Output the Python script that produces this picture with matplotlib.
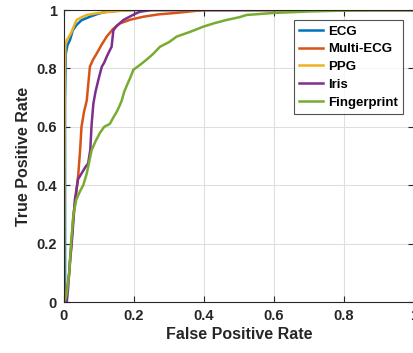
import matplotlib
matplotlib.use("Agg")
import matplotlib.pyplot as plt

plt.rcParams['font.family'] = ['Liberation Sans', 'DejaVu Sans']

# ---- data ----
ecg_fpr = [0, 0.003, 0.003, 0.005, 0.01, 0.017, 0.025, 0.036, 0.05, 0.074, 0.1, 0.122, 0.16, 0.2, 1]
ecg_tpr = [0, 0, 0.69, 0.85, 0.88, 0.897, 0.93, 0.949, 0.965, 0.977, 0.988, 0.994, 0.998, 1, 1]

multi_fpr = [0, 0.005, 0.008, 0.015, 0.02, 0.027, 0.034, 0.041, 0.046, 0.05, 0.057, 0.065, 0.074,
             0.083, 0.093, 0.107, 0.122, 0.14, 0.16, 0.19, 0.227, 0.27, 0.32, 0.4, 1]
multi_tpr = [0, 0.02, 0.04, 0.1, 0.18, 0.30, 0.36, 0.44, 0.52, 0.60, 0.65, 0.69, 0.806,
             0.83, 0.85, 0.88, 0.909, 0.935, 0.954, 0.967, 0.977, 0.985, 0.99, 1, 1]

ppg_fpr = [0, 0.002, 0.004, 0.008, 0.015, 0.022, 0.03, 0.036, 0.05, 0.065, 0.1, 0.15, 0.2, 1]
ppg_tpr = [0, 0.75, 0.88, 0.897, 0.91, 0.926, 0.95, 0.966, 0.975, 0.983, 0.99, 0.996, 1, 1]

iris_fpr = [0, 0.008, 0.012, 0.017, 0.022, 0.027, 0.031, 0.04, 0.05, 0.06, 0.069, 0.075, 0.079, 0.084,
            0.09, 0.098, 0.108, 0.115, 0.122, 0.13, 0.136, 0.141, 0.15, 0.17, 0.2, 0.217, 0.25, 1]
iris_tpr = [0, 0, 0.05, 0.14, 0.2, 0.28, 0.35, 0.42, 0.44, 0.46, 0.475, 0.52, 0.61, 0.68,
            0.72, 0.76, 0.806, 0.82, 0.84, 0.86, 0.874, 0.93, 0.945, 0.966, 0.985, 0.994, 1, 1]

finger_fpr = [0, 0.004, 0.008, 0.015, 0.02, 0.027, 0.035, 0.046, 0.055, 0.065, 0.072, 0.079, 0.09, 0.103,
              0.115, 0.131, 0.14, 0.15, 0.158, 0.165, 0.172, 0.179, 0.19, 0.198, 0.215, 0.236, 0.255,
              0.274, 0.3, 0.322, 0.36, 0.398, 0.43, 0.465, 0.5, 0.522, 0.6, 0.7, 0.8, 0.9, 1]
finger_tpr = [0, 0.01, 0.03, 0.1, 0.2, 0.30, 0.35, 0.38, 0.40, 0.44, 0.48, 0.52, 0.55, 0.58,
              0.60, 0.61, 0.63, 0.65, 0.67, 0.69, 0.72, 0.74, 0.77, 0.795, 0.81, 0.83, 0.85,
              0.874, 0.89, 0.909, 0.925, 0.943, 0.955, 0.966, 0.975, 0.983, 0.99, 0.995, 0.998, 1, 1]

series_names = ['ECG', 'Multi-ECG', 'PPG', 'Iris', 'Fingerprint']
series_fpr = [ecg_fpr, multi_fpr, ppg_fpr, iris_fpr, finger_fpr]
series_tpr = [ecg_tpr, multi_tpr, ppg_tpr, iris_tpr, finger_tpr]
colors = ['#0072BD', '#D95319', '#EDB120', '#7E2F8E', '#77AC30']

xticks = [0, 0.2, 0.4, 0.6, 0.8, 1]
xtick_labels = ['0', '0.2', '0.4', '0.6', '0.8', '1']
yticks = [0, 0.2, 0.4, 0.6, 0.8, 1]
ytick_labels = ['0', '0.2', '0.4', '0.6', '0.8', '1']

fig = plt.figure(figsize=(4.13, 3.53), dpi=100)
ax = fig.add_axes([64/413, 51/353, 350/413, 292/353])

for name, fx, ty, c in zip(series_names, series_fpr, series_tpr, colors):
    ax.plot(fx, ty, color=c, lw=1.8, label=name)

ax.set_xlim(0, 1)
ax.set_ylim(0, 1)
ax.set_xticks(xticks)
ax.set_xticklabels(xtick_labels)
ax.set_yticks(yticks)
ax.set_yticklabels(ytick_labels)
ax.grid(True, color='#dfdfdf', lw=0.8)
ax.set_axisbelow(True)
for s in ax.spines.values():
    s.set_color('#262626')
    s.set_linewidth(0.8)
ax.tick_params(direction='in', top=True, right=True, length=4, width=0.8,
               colors='#262626', labelsize=10.5, pad=5)
for lbl in ax.get_xticklabels() + ax.get_yticklabels():
    lbl.set_fontweight('bold')

ax.set_xlabel('False Positive Rate', fontsize=11.5, fontweight='bold', color='#262626', labelpad=3)
ax.set_ylabel('True Positive Rate', fontsize=11.5, fontweight='bold', color='#262626', labelpad=4)

leg = ax.legend(loc='upper right', bbox_to_anchor=((403-64)/350, (302-20)/292),
                prop={'weight': 'bold', 'size': 9.5}, frameon=True, fancybox=False,
                edgecolor='#262626', handlelength=1.8, handletextpad=0.4,
                labelspacing=0.42, borderpad=0.4, borderaxespad=0)
leg.get_frame().set_linewidth(0.8)

fig.savefig('out.png', dpi=100)
